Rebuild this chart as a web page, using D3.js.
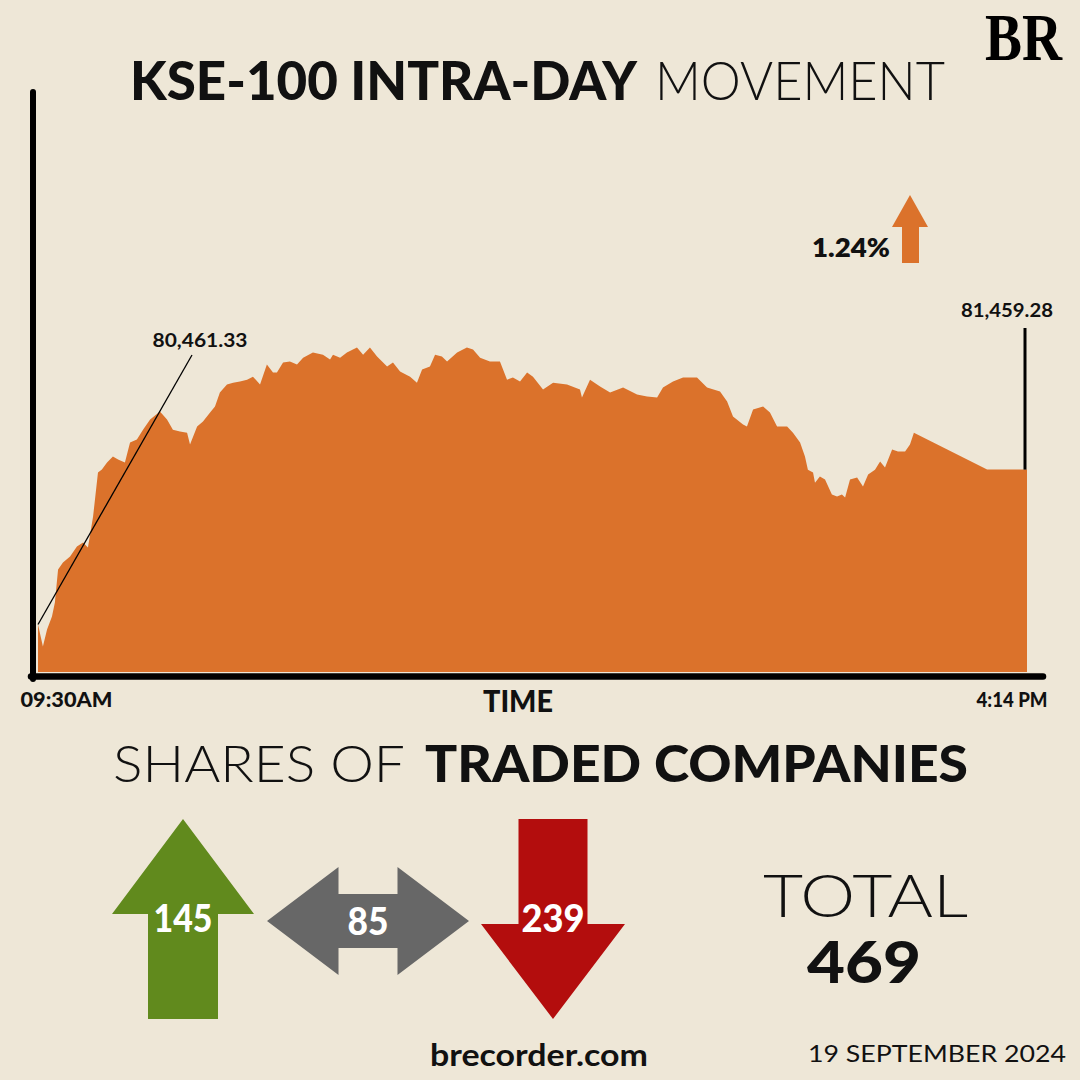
<!DOCTYPE html>
<html><head><meta charset="utf-8">
<script src="https://cdn.jsdelivr.net/npm/d3@7"></script>
<style>html,body{margin:0;padding:0;background:#EEE7D7;} svg{display:block}</style>
</head><body><div id="chart"></div>
<script>
// Minutes after 09:30 and KSE-100 index level
const minutes = [0,2,3.7,5.7,6.9,8.2,10.2,13.1,15.9,18.4,20.4,22.5,24.5,26.1,28.2,30.6,32.7,35.5,37.6,40.4,42.9,45.8,49.8,52.7,55.1,58,60.9,62.1,65,67.4,70.3,72.3,74.3,77.2,79.7,82.5,85.4,87.8,90.7,93.5,96,97.6,100.1,102.9,105.8,108.3,112.3,116.4,119.3,120.5,123.4,126.2,130.3,132.8,135.6,138.5,142.6,145,147.9,152,154.8,156.9,160.1,162.2,165,167.1,171.2,175.2,177.7,180.6,184.6,188.7,191.6,194,196.9,199.8,202.2,206.3,210.4,216.1,221.4,222.2,225.5,229.6,233.7,239,244.7,248.8,252.9,255.3,259.4,263.5,269.2,273.3,278.6,281.5,283.9,288,289.6,292.1,296.2,299,301.9,306,308.4,311.3,313.3,314.5,316.6,317.4,319.4,321.5,324.3,326.4,328.4,329.7,331.7,334.6,337,339.1,341.9,344,346,348.9,351.3,354.2,356.2,357.8,387.7,404];
const values = [80480,80341,80448,80531,80619,80828,80872,80910,80973,80998,80967,81163,81441,81460,81504,81542,81523,81504,81630,81649,81712,81776,81826,81776,81712,81700,81693,81618,81731,81763,81820,81858,81946,81997,82009,82016,82028,82047,81997,82123,82073,82073,82136,82142,82123,82167,82199,82186,82155,82186,82167,82199,82231,82186,82231,82174,82111,82136,82079,82047,82009,82092,82111,82186,82174,82142,82199,82231,82218,82167,82142,82142,82028,82041,82016,82073,82047,81965,82009,81997,81965,81915,82028,81984,81946,81978,81934,81921,81915,81978,82016,82041,82041,81978,81953,81889,81795,81744,81731,81839,81858,81820,81731,81731,81693,81630,81542,81459,81441,81377,81415,81396,81302,81289,81302,81283,81396,81409,81352,81428,81459,81510,81472,81586,81573,81573,81618,81693,81459.28,81459.28];
const prevCloseLabel = "80,461.33";
const closeLabel = "81,459.28";
const changeLabel = "1.24%";
const timeTickValues = [0, 404];
const timeTickLabels = ["09:30AM", "4:14 PM"];
const breadthCategories = ["Advanced", "Unchanged", "Declined"];
const breadthCounts = [145, 85, 239];
const totalCompanies = 469;
const dateLabel = "19 SEPTEMBER 2024";

const W = 1080, H = 1080;
const BG = "#EEE7D7", ORANGE = "#DB722B";
const svg = d3.select("#chart").append("svg").attr("width", W).attr("height", H);
svg.append("rect").attr("width", W).attr("height", H).attr("fill", BG);

const data = minutes.map((m, i) => ({ m, v: values[i] }));
const x = d3.scaleLinear().domain([0, 404]).range([38, 1027]);
const y = d3.scaleLinear().domain([80180, 82300]).range([672, 336.6]);

// Area
svg.append("path").datum(data)
  .attr("fill", ORANGE)
  .attr("d", d3.area().x(d => x(d.m)).y0(y(80180)).y1(d => y(d.v)));

// Spines
svg.append("line").attr("x1", 33).attr("x2", 33).attr("y1", 92).attr("y2", 679)
  .attr("stroke", "#000").attr("stroke-width", 6).attr("stroke-linecap", "round");
svg.append("line").attr("x1", 31).attr("x2", 1043).attr("y1", 676.5).attr("y2", 676.5)
  .attr("stroke", "#000").attr("stroke-width", 6.5).attr("stroke-linecap", "round");

// X axis labels
const xAxis = d3.axisBottom(x).tickValues(timeTickValues)
  .tickFormat((d, i) => timeTickLabels[i]).tickSize(0).tickPadding(0);
const gx = svg.append("g").attr("transform", "translate(0,707)").call(xAxis);
gx.select(".domain").remove();
gx.selectAll("text")
  .attr("y", 0).attr("dy", 0)
  .attr("font-family", "Lato").attr("font-weight", 900).attr("font-size", 20)
  .attr("fill", "#111")
  .attr("text-anchor", (d, i) => i === 0 ? "start" : "end")
  .attr("dx", (d, i) => i === 0 ? -18 : 20)
  .attr("textLength", (d, i) => i === 0 ? 92 : 71)
  .attr("lengthAdjust", "spacingAndGlyphs");

function txt(s, o) {
  const t = svg.append("text").text(s)
    .attr("x", o.x).attr("y", o.y)
    .attr("font-family", o.family || "Lato")
    .attr("font-weight", o.weight || 400)
    .attr("font-size", o.size)
    .attr("fill", o.fill || "#111")
    .attr("text-anchor", o.anchor || "start");
  if (o.len) t.attr("textLength", o.len).attr("lengthAdjust", "spacingAndGlyphs");
  return t;
}

txt("TIME", { x: 483, y: 712, size: 30, weight: 900, len: 70 });

// Title
txt("KSE-100 INTRA-DAY", { x: 130, y: 100, size: 53, weight: 900, len: 507 });
txt("MOVEMENT", { x: 655, y: 100, size: 53, weight: 300, len: 290 });

// BR logo
txt("BR", { x: 985, y: 60, size: 68, weight: 700, family: "Liberation Serif", fill: "#000", len: 77 });

// Change indicator
txt(changeLabel, { x: 812, y: 257, size: 26, weight: 800, len: 78 });
svg.append("path").attr("fill", ORANGE)
  .attr("d", "M910,195 L928,227 L919,227 L919,263 L902,263 L902,227 L892,227 Z");

// Prev close annotation (leader from first point)
svg.append("line").attr("x1", x(minutes[0])).attr("y1", y(values[0]))
  .attr("x2", 192).attr("y2", 355).attr("stroke", "#000").attr("stroke-width", 1.3);
txt(prevCloseLabel, { x: 200, y: 347, size: 19, weight: 700, anchor: "middle", len: 95 });

// Close annotation
const last = data[data.length - 1];
svg.append("line").attr("x1", x(last.m) - 2).attr("x2", x(last.m) - 2)
  .attr("y1", 328).attr("y2", y(last.v)).attr("stroke", "#000").attr("stroke-width", 3);
txt(closeLabel, { x: 1007, y: 317, size: 19, weight: 700, anchor: "middle", len: 92 });

// Section title
txt("SHARES OF", { x: 113, y: 782, size: 51, weight: 300, len: 292 });
txt("TRADED COMPANIES", { x: 425, y: 782, size: 51, weight: 900, len: 543 });

// Breadth arrows
const px = d3.scalePoint().domain(breadthCategories).range([183, 553]);
const colors = { Advanced: "#618A1D", Unchanged: "#676767", Declined: "#B30D0D" };
function arrowPath(cat, cx) {
  if (cat === "Advanced") {
    return `M${cx},819 L${cx + 71},914 L${cx + 35},914 L${cx + 35},1019 L${cx - 35},1019 L${cx - 35},914 L${cx - 71},914 Z`;
  } else if (cat === "Declined") {
    return `M${cx - 34.5},819 L${cx + 34.5},819 L${cx + 34.5},924 L${cx + 72},924 L${cx},1019 L${cx - 72},924 L${cx - 34.5},924 Z`;
  } else {
    const cy = 921;
    return `M${cx - 101},${cy} L${cx - 29.5},${cy - 54} L${cx - 29.5},${cy - 27} L${cx + 29.5},${cy - 27} L${cx + 29.5},${cy - 54} L${cx + 101},${cy} L${cx + 29.5},${cy + 54} L${cx + 29.5},${cy + 27} L${cx - 29.5},${cy + 27} L${cx - 29.5},${cy + 54} Z`;
  }
}
const numPos = { Advanced: { y: 932, len: 59 }, Unchanged: { y: 935, len: 41 }, Declined: { y: 932, len: 63 } };
breadthCategories.forEach((c, i) => {
  const cx = px(c);
  svg.append("path").attr("d", arrowPath(c, cx)).attr("fill", colors[c]);
  txt(String(breadthCounts[i]), { x: cx, y: numPos[c].y, size: 38, weight: 900, fill: "#fff", anchor: "middle", len: numPos[c].len });
});

// Total
txt("TOTAL", { x: 763, y: 917, size: 60, weight: 300, len: 205 });
txt(String(totalCompanies), { x: 807, y: 983, size: 58, weight: 900, len: 114 });

// Footer
txt("brecorder.com", { x: 430, y: 1066, size: 30, weight: 700, len: 218 });
txt(dateLabel, { x: 808, y: 1062, size: 23, weight: 400, len: 258 });
</script>
</body></html>
